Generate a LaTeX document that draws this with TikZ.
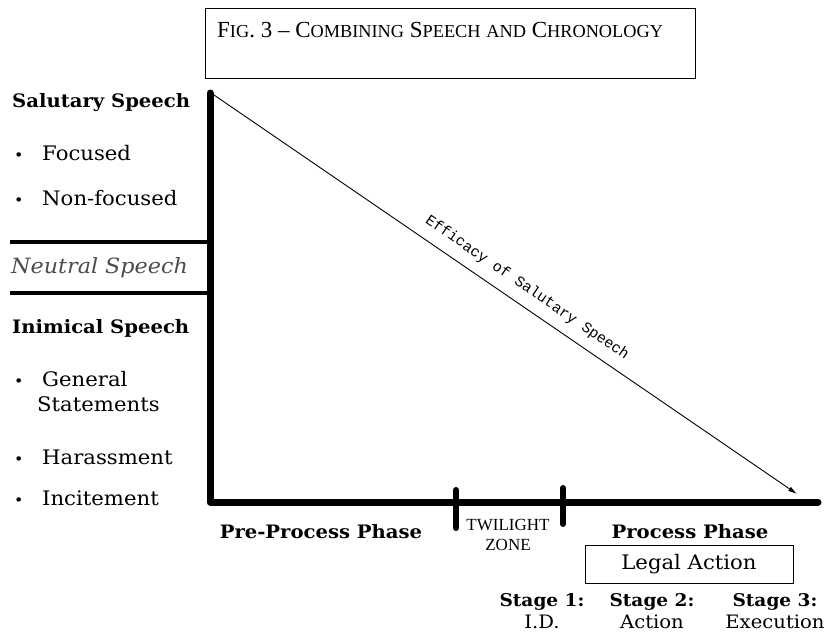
\documentclass[tikz,border=0pt]{standalone}
\usepackage{fontspec}
\setmainfont{DejaVu Serif}[FakeStretch=1.06]
\newfontfamily\titlefont{Liberation Serif}[Ligatures=TeX]
\newfontfamily\slopefont{Liberation Mono}
\usetikzlibrary{positioning,arrows.meta}
\newcommand{\itm}[1]{\makebox[28pt][l]{\fontsize{15}{15}\selectfont\textbullet}#1}
\newcommand{\smc}[1]{{\fontsize{18.3}{19}\selectfont #1}}
\tikzset{
	heading/.style = {
		font=\fontsize{18.5}{25}\selectfont\bfseries,
		inner sep=0pt
	},
	entry/.style = {
		font=\fontsize{20}{25}\selectfont,
		anchor=west,
		inner sep=0pt,
		align=left
	},
	axisline/.style = {
		line width=7pt,
		line cap=round,
		line join=round
	},
	divider/.style = {line width=4pt},
	tick/.style = {line width=6pt, line cap=round},
	frame/.style = {draw, line width=1pt, rectangle, inner sep=0pt}
}
\begin{document}
\begin{tikzpicture}[x=1pt, y=-1pt]
	\useasboundingbox (0,0) rectangle (831,633);
	\node[frame, minimum width=490pt, minimum height=70pt] (titlebox) at (450,43) {};
	\node[inner sep=0pt, anchor=west, font=\titlefont\fontsize{23}{23}\selectfont] (title) at (217,30)
		{F\smc{IG}. 3 – C\smc{OMBINING} S\smc{PEECH} \smc{AND} C\smc{HRONOLOGY}};
	\coordinate (top) at (210,93);
	\coordinate (origin) at (210,502);
	\coordinate (end) at (818,502);
	\coordinate (start) at (214,95);
	\coordinate (tip) at (797,494);
	\draw[axisline] (top) -- (origin) -- (end);
	\coordinate (t1a) at (456,490);
	\coordinate (t1b) at (456,528);
	\coordinate (t2a) at (563,488);
	\coordinate (t2b) at (563,524);
	\draw[tick] (t1a) -- (t1b);
	\draw[tick] (t2a) -- (t2b);
	\coordinate (d1a) at (10,242);
	\coordinate (d1b) at (210,242);
	\coordinate (d2a) at (10,293);
	\coordinate (d2b) at (210,293);
	\draw[divider] (d1a) -- (d1b);
	\draw[divider] (d2a) -- (d2b);
	\draw[line width=0.9pt, -{Latex[length=9pt, width=5pt]}] (start) -- (tip)
		node[pos=0.52, sloped, above=10pt, inner sep=0pt, font=\slopefont\fontsize{15}{15}\selectfont] (efficacy) {Efficacy of Salutary Speech};
	\node[heading, anchor=west] (salutary) at (12,103) {Salutary Speech};
	\node[entry] (focused) at (14,153) {\itm{Focused}};
	\node[entry] (nonfocused) at (14,198) {\itm{Non-focused}};
	\node[entry, font=\fontsize{21}{25}\selectfont\itshape, text=black!70] (neutral) at (11,268) {Neutral Speech};
	\node[heading, anchor=west] (inimical) at (12,328) {Inimical Speech};
	\node[entry] (general) at (14,392) {\itm{General}\\\hspace*{23pt}Statements};
	\node[entry] (harassment) at (14,457) {\itm{Harassment}};
	\node[entry] (incitement) at (14,498) {\itm{Incitement}};
	\node[heading] (prephase) at (321,532) {Pre-Process Phase};
	\node[inner sep=0pt, align=center, font=\titlefont\fontsize{17}{20}\selectfont] (twilight) at (508,535) {TWILIGHT\\ZONE};
	\node[heading] (phase) at (690,532) {Process Phase};
	\node[frame, minimum width=208pt, minimum height=38pt, font=\fontsize{20}{25}\selectfont] (legal) at (689,564) {Legal Action};
	\node[heading, align=center, font=\fontsize{17.5}{22}\selectfont\bfseries] (stage1) at (542,611) {Stage 1:\\\fontsize{18.5}{22}\selectfont\mdseries I.D.};
	\node[heading, align=center, font=\fontsize{17.5}{22}\selectfont\bfseries] (stage2) at (652,611) {Stage 2:\\\fontsize{18.5}{22}\selectfont\mdseries Action};
	\node[heading, align=center, font=\fontsize{17.5}{22}\selectfont\bfseries] (stage3) at (775,611) {Stage 3:\\\fontsize{18.5}{22}\selectfont\mdseries Execution};
\end{tikzpicture}
\end{document}
